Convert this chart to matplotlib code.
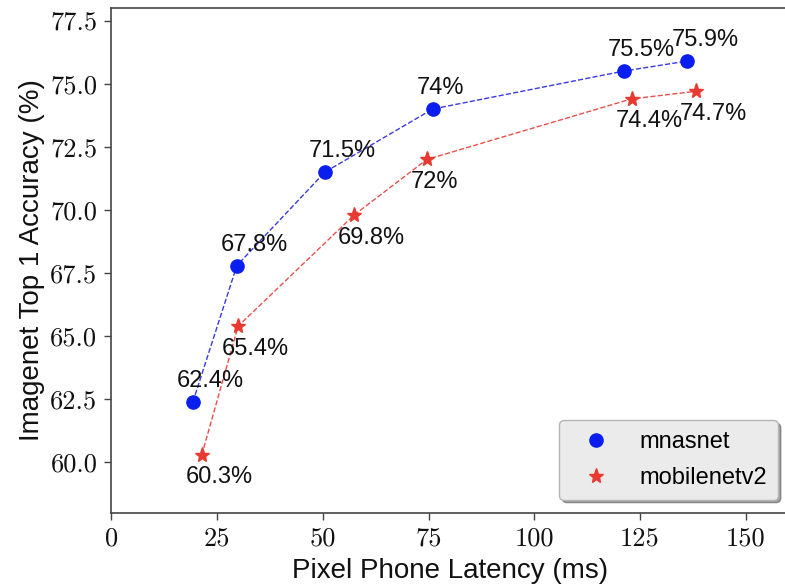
import matplotlib
matplotlib.use("Agg")
import matplotlib.pyplot as plt

# Latency (ms) and top-1 accuracy (%) for each model family
mnasnet_latency = [19.3, 29.7, 50.5, 76.0, 121.1, 136.2]
mnasnet_acc = [62.4, 67.8, 71.5, 74.0, 75.5, 75.9]
mnasnet_labels = ["62.4%", "67.8%", "71.5%", "74%", "75.5%", "75.9%"]

mobilenet_latency = [21.4, 30.0, 57.4, 74.6, 123.0, 138.2]
mobilenet_acc = [60.3, 65.4, 69.8, 72.0, 74.4, 74.7]
mobilenet_labels = ["60.3%", "65.4%", "69.8%", "72%", "74.4%", "74.7%"]

x_ticks = [0, 25, 50, 75, 100, 125, 150]
y_ticks = [60.0, 62.5, 65.0, 67.5, 70.0, 72.5, 75.0, 77.5]

BLUE = "#0a1ef0"
RED = "#e83a30"
SANS = ["Liberation Sans", "DejaVu Sans"]

fig = plt.figure(figsize=(7.85, 5.88), dpi=100)
ax = fig.add_axes([0.1417, 0.1276, 0.8623, 0.8588])

# dashed connecting lines
ax.plot(mnasnet_latency, mnasnet_acc, linestyle="--", color="#3a3ae0",
        linewidth=1.0, zorder=2)
ax.plot(mobilenet_latency, mobilenet_acc, linestyle="--", color="#e8504a",
        linewidth=1.0, zorder=2)

# markers
ax.plot(mnasnet_latency, mnasnet_acc, linestyle="none", marker="o",
        markersize=9.5, color=BLUE, label="mnasnet", zorder=3)
ax.plot(mobilenet_latency, mobilenet_acc, linestyle="none", marker="*",
        markersize=11, color=RED, label="mobilenetv2", zorder=3)

# value labels
for x, y, t in zip(mnasnet_latency, mnasnet_acc, mnasnet_labels):
    ax.annotate(t, (x, y), xytext=(-11.5, 10.8), textcoords="offset points",
                ha="left", va="baseline", fontsize=17, family=SANS,
                color="#111111", zorder=4)
for x, y, t in zip(mobilenet_latency, mobilenet_acc, mobilenet_labels):
    ax.annotate(t, (x, y), xytext=(-11.5, -20.5), textcoords="offset points",
                ha="left", va="baseline", fontsize=17, family=SANS,
                color="#111111", zorder=4)

ax.set_xlim(0, 160)
ax.set_ylim(58, 78)
ax.set_xticks(x_ticks)
ax.set_yticks(y_ticks)
ax.set_xticklabels([str(v) for v in x_ticks])
ax.set_yticklabels([f"{v:.1f}" for v in y_ticks])
for lab in ax.get_xticklabels() + ax.get_yticklabels():
    lab.set_fontfamily("cmr10")
    lab.set_fontsize(19)
    lab.set_color("#111111")

ax.tick_params(axis="both", direction="out", length=5, width=1,
               color="#444444")
ax.tick_params(axis="x", pad=5)
ax.tick_params(axis="y", pad=5)
for side in ("left", "bottom", "top", "right"):
    ax.spines[side].set_color("#444444")
    ax.spines[side].set_linewidth(1.2)

ax.set_xlabel("Pixel Phone Latency (ms)", fontsize=20, family=SANS,
              color="#111111", labelpad=5)
ax.set_ylabel("Imagenet Top 1 Accuracy (%)", fontsize=20, family=SANS,
              color="#111111", labelpad=4)

leg = ax.legend(loc="lower right", bbox_to_anchor=(0.985, 0.026),
                borderaxespad=0.0,
                prop={"family": SANS, "size": 17}, shadow=True,
                frameon=True, fancybox=True, facecolor="#ebebeb",
                edgecolor="#b5b5b5", framealpha=1.0, handletextpad=0.75,
                borderpad=0.45, labelspacing=0.6, handlelength=2.2,
                numpoints=1)
leg.get_frame().set_linewidth(1.0)

fig.savefig("out.png", dpi=100)
